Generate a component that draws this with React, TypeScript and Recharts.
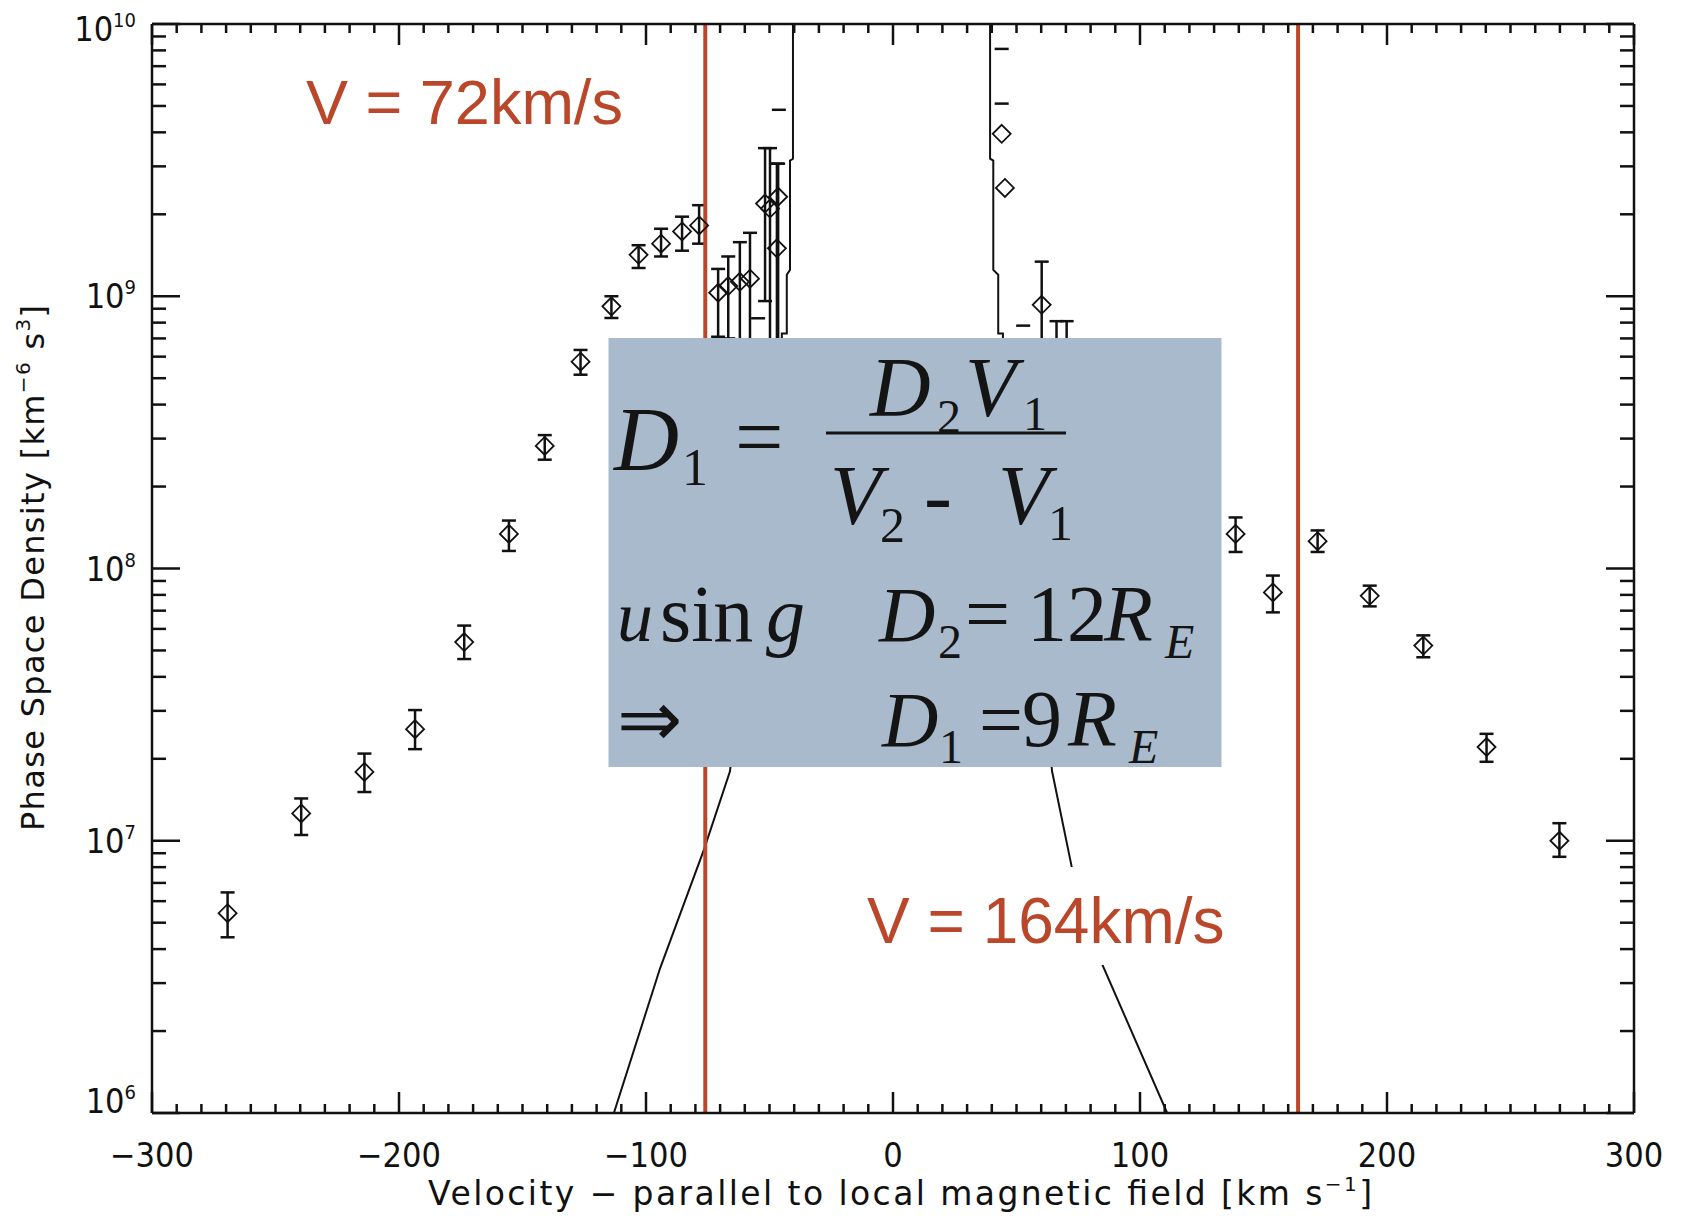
import React from 'react';
import { ComposedChart, XAxis, YAxis, Scatter, Line, ErrorBar, ReferenceLine } from 'recharts';

const W = 1667;
const H = 1209;

// measured phase space density with error bar ends (low / high)
const pointV = [
  -269.4, -239.6, -214, -193.5, -173.6, -155.5, -141, -126.5, -114, -103, -93.9, -85.4, -78.5,
  -70.8, -66.7, -62, -57.9, -51.8, -49.8, -46.5, -47,
  60.2, 66.2, 70.3,
  138.7, 153.8, 171.9, 193, 214.7, 240.3, 269.8,
];
const pointPsd = [
  5.42e6, 1.26e7, 1.79e7, 2.57e7, 5.37e7, 1.34e8, 2.82e8, 5.75e8, 9.18e8, 1.42e9, 1.56e9, 1.73e9, 1.82e9,
  1.03e9, 1.09e9, 1.13e9, 1.16e9, 2.19e9, 2.1e9, 2.32e9, 1.5e9,
  9.3e8, 5e8, 5e8,
  1.34e8, 8.17e7, 1.26e8, 7.94e7, 5.21e7, 2.21e7, 1.0e7,
];
const pointLow = [
  4.42e6, 1.05e7, 1.51e7, 2.17e7, 4.65e7, 1.16e8, 2.51e8, 5.15e8, 8.32e8, 1.27e9, 1.4e9, 1.47e9, 1.56e9,
  7.1e8, 7.0e8, 5.0e8, 5.0e8, 9.6e8, 5.0e8, 5.0e8, 5.0e8,
  6.0e8, 3.0e8, 3.0e8,
  1.15e8, 6.9e7, 1.15e8, 7.26e7, 4.72e7, 1.95e7, 8.73e6,
];
const pointHigh = [
  6.46e6, 1.43e7, 2.09e7, 3.02e7, 6.17e7, 1.5e8, 3.09e8, 6.35e8, 1.0e9, 1.54e9, 1.77e9, 1.96e9, 2.16e9,
  1.26e9, 1.4e9, 1.58e9, 1.71e9, 3.5e9, 3.5e9, 3.07e9, 3.07e9,
  1.34e9, 8.1e8, 8.1e8,
  1.54e8, 9.42e7, 1.38e8, 8.65e7, 5.68e7, 2.47e7, 1.16e7,
];

// diamonds drawn without error bars
const bareV = [44, 45.3];
const bareF = [3.95e9, 2.5e9];

// lone error bar caps
const capV = [-46.2, -54.6, 44, 44, 52.7];
const capF = [4.84e9, 8.3e8, 8.1e9, 5.1e9, 7.8e8];

// model curve, both branches
const leftCurveV = [-113, -94.3, -76.5, -66, -56, -45, -45, -43, -43, -41.7, -41.7, -40.5, -40.5];
const leftCurveF = [1e6, 3.4e6, 9.3e6, 1.8e7, 1.2e8, 6.5e8, 7.3e8, 7.3e8, 1.2e9, 1.25e9, 3.15e9, 3.2e9, 1e10];
const rightCurveV = [39.3, 39.3, 40.6, 40.6, 42.6, 42.6, 44.5, 44.5, 55, 64.4, 72.5, 84.8, 111];
const rightCurveF = [1e10, 3.2e9, 3.15e9, 1.25e9, 1.2e9, 7.3e8, 7.3e8, 6.5e8, 1.2e8, 1.8e7, 7.9e6, 3.5e6, 1e6];

const redLines = [-76, 164];

const xMajor = [-300, -200, -100, 0, 100, 200, 300];
const yMajor = [1e6, 1e7, 1e8, 1e9, 1e10];

const xTicks: number[] = [];
for (let v = -300; v <= 300; v += 10) xTicks.push(v);
const yTicks: number[] = [];
for (let d = 6; d < 10; d++) for (let k = 1; k < 10; k++) yTicks.push(k * Math.pow(10, d));
yTicks.push(1e10);

const points = pointV.map((v, i) => ({
  v,
  f: pointPsd[i],
  err: [pointPsd[i] - pointLow[i], pointHigh[i] - pointPsd[i]],
}));
const bare = bareV.map((v, i) => ({ v, f: bareF[i] }));
const caps = capV.map((v, i) => ({ v, f: capF[i] }));
const leftCurve = leftCurveV.map((v, i) => ({ v, f: leftCurveF[i] }));
const rightCurve = rightCurveV.map((v, i) => ({ v, f: rightCurveF[i] }));

const AXIS_FONT = "'DejaVu Sans', sans-serif";
const TICK_FONT = "'DejaVu Sans Condensed', 'DejaVu Sans', sans-serif";
const RED = '#bb472b';
const INK = '#111';

const Diamond = (props: any) => {
  const { cx, cy } = props;
  if (cx == null || cy == null) return null;
  const r = 9;
  return (
    <path
      d={`M${cx},${cy - r}L${cx + r},${cy}L${cx},${cy + r}L${cx - r},${cy}Z`}
      fill="none"
      stroke={INK}
      strokeWidth={1.8}
    />
  );
};

const Dash = (props: any) => {
  const { cx, cy } = props;
  if (cx == null || cy == null) return null;
  return <line x1={cx - 7} x2={cx + 7} y1={cy} y2={cy} stroke={INK} strokeWidth={2.5} />;
};

const fmtX = (v: number) => (v < 0 ? `\u2212${-v}` : `${v}`);

const BottomTick = (props: any) => {
  const { x, y, payload } = props;
  const major = xMajor.includes(payload.value);
  return (
    <g>
      <line x1={x} x2={x} y1={y} y2={y - (major ? 21 : 9)} stroke={INK} strokeWidth={2.5} />
      {major && (
        <text x={x} y={y + 54} textAnchor="middle" fontFamily={TICK_FONT} fontSize={34} fill={INK}>
          {fmtX(payload.value)}
        </text>
      )}
    </g>
  );
};

const TopTick = (props: any) => {
  const { x, y, payload } = props;
  const major = xMajor.includes(payload.value);
  return <line x1={x} x2={x} y1={y} y2={y + (major ? 21 : 9)} stroke={INK} strokeWidth={2.5} />;
};

const LeftTick = (props: any) => {
  const { x, y, payload } = props;
  const exp = Math.round(Math.log10(payload.value));
  const major = yMajor.includes(payload.value);
  let base = y + 12;
  if (exp === 10) base = y + 17;
  if (exp === 6) base = y;
  return (
    <g>
      <line x1={x} x2={x + (major ? 28 : 14)} y1={y} y2={y} stroke={INK} strokeWidth={2.5} />
      {major && (
        <text x={x - 16} y={base} textAnchor="end" fontFamily={TICK_FONT} fontSize={34} fill={INK}>
          10
          <tspan fontSize={20} dy={-14}>
            {exp}
          </tspan>
        </text>
      )}
    </g>
  );
};

const RightTick = (props: any) => {
  const { x, y, payload } = props;
  const major = yMajor.includes(payload.value);
  return <line x1={x} x2={x - (major ? 28 : 14)} y1={y} y2={y} stroke={INK} strokeWidth={2.5} />;
};

const axisLine = { stroke: INK, strokeWidth: 2.5 };

const serif = "'Liberation Serif', 'Times New Roman', serif";

const Annotations = () => (
  <svg
    width={W}
    height={H}
    style={{ position: 'absolute', left: 0, top: 0, pointerEvents: 'none' }}
  >
    {/* axis titles */}
    <text
      x={892}
      y={1197}
      textAnchor="middle"
      fontFamily={AXIS_FONT}
      fontSize={33}
      fill={INK}
      textLength={944}
      lengthAdjust="spacing"
    >
      Velocity {'\u2212'} parallel to local magnetic field [km s
      <tspan fontSize={20} dy={-14}>{'\u22121'}</tspan>
      <tspan dy={14}>]</tspan>
    </text>
    <text
      x={0}
      y={0}
      transform="translate(36,560) rotate(-90)"
      textAnchor="middle"
      fontFamily={AXIS_FONT}
      fontSize={32}
      fill={INK}
      textLength={526}
      lengthAdjust="spacing"
    >
      Phase Space Density [km
      <tspan fontSize={20} dy={-14}>{'\u22126'}</tspan>
      <tspan dy={14}> s</tspan>
      <tspan fontSize={20} dy={-14}>3</tspan>
      <tspan dy={14}>]</tspan>
    </text>

    {/* velocity labels */}
    <text x={298} y={116} fontFamily="'Liberation Sans', Arial, sans-serif" fontSize={63} fill={RED}>
      V = 72km/s
    </text>
    <rect x={852} y={859} width={392} height={98} fill="#fff" />
    <text x={859} y={935} fontFamily="'Liberation Sans', Arial, sans-serif" fontSize={64} fill={RED}>
      V = 164km/s
    </text>

    {/* formula box */}
    <rect x={600.5} y={330} width={613} height={429} fill="#a9bacd" />
    <g fontFamily={serif} fill="#141414">
      <text x={606} y={462} fontSize={90} fontStyle="italic">D</text>
      <text x={674} y={477} fontSize={52}>1</text>
      <text x={727} y={458} fontSize={86}>=</text>
      <line x1={818} x2={1058} y1={425} y2={425} stroke="#141414" strokeWidth={3} />
      <text x={862} y={408} fontSize={84} fontStyle="italic">D</text>
      <text x={929} y={425} fontSize={48}>2</text>
      <text x={957} y={408} fontSize={84} fontStyle="italic">V</text>
      <text x={1015} y={422} fontSize={48}>1</text>
      <text x={822} y={516} fontSize={84} fontStyle="italic">V</text>
      <text x={872} y={534} fontSize={50}>2</text>
      <text x={916} y={516} fontSize={84}>-</text>
      <text x={990} y={516} fontSize={84} fontStyle="italic">V</text>
      <text x={1040} y={532} fontSize={50}>1</text>

      <text x={609} y={633} fontSize={72} fontStyle="italic">u</text>
      <text x={652} y={633} fontSize={80}>sin</text>
      <text x={758} y={633} fontSize={78} fontStyle="italic">g</text>
      <text x={871} y={633} fontSize={78} fontStyle="italic">D</text>
      <text x={930} y={650} fontSize={48}>2</text>
      <text x={957} y={633} fontSize={80}>=</text>
      <text x={1019} y={633} fontSize={80}>12</text>
      <text x={1096} y={633} fontSize={80} fontStyle="italic">R</text>
      <text x={1157} y={650} fontSize={48} fontStyle="italic">E</text>

      <text x={609} y={738} fontSize={78}>{'\u21D2'}</text>
      <text x={874} y={738} fontSize={78} fontStyle="italic">D</text>
      <text x={931} y={755} fontSize={48}>1</text>
      <text x={971} y={738} fontSize={78}>=</text>
      <text x={1014} y={738} fontSize={80}>9</text>
      <text x={1060} y={738} fontSize={80} fontStyle="italic">R</text>
      <text x={1121} y={755} fontSize={48} fontStyle="italic">E</text>
    </g>
  </svg>
);

export default function App() {
  return (
    <div style={{ position: 'relative', width: W, height: H, background: '#fff' }}>
      <ComposedChart width={W} height={H} margin={{ top: 15, right: 0, bottom: 0, left: 0 }}>
        <XAxis
          xAxisId="b"
          dataKey="v"
          type="number"
          domain={[-300, 300]}
          ticks={xTicks}
          interval={0}
          height={104}
          tickSize={0}
          tickMargin={0}
          tickLine={false}
          tick={BottomTick}
          axisLine={axisLine}
          allowDataOverflow
        />
        <XAxis
          xAxisId="t"
          dataKey="v"
          type="number"
          orientation="top"
          domain={[-300, 300]}
          ticks={xTicks}
          interval={0}
          height={1}
          tickSize={0}
          tickMargin={0}
          tickLine={false}
          tick={TopTick}
          axisLine={axisLine}
          allowDataOverflow
        />
        <YAxis
          yAxisId="l"
          dataKey="f"
          type="number"
          scale="log"
          domain={[1e6, 1e10]}
          ticks={yTicks}
          interval={0}
          width={144}
          tickSize={0}
          tickMargin={0}
          tickLine={false}
          tick={LeftTick}
          axisLine={axisLine}
          allowDataOverflow
        />
        <YAxis
          yAxisId="r"
          dataKey="f"
          type="number"
          orientation="right"
          scale="log"
          domain={[1e6, 1e10]}
          ticks={yTicks}
          interval={0}
          width={41}
          tickSize={0}
          tickMargin={0}
          tickLine={false}
          tick={RightTick}
          axisLine={axisLine}
          allowDataOverflow
        />

        <Line
          xAxisId="b"
          yAxisId="l"
          data={leftCurve}
          dataKey="f"
          type="linear"
          stroke={INK}
          strokeWidth={2}
          dot={false}
          isAnimationActive={false}
        />
        <Line
          xAxisId="b"
          yAxisId="l"
          data={rightCurve}
          dataKey="f"
          type="linear"
          stroke={INK}
          strokeWidth={2}
          dot={false}
          isAnimationActive={false}
        />

        <Scatter
          xAxisId="b"
          yAxisId="l"
          data={points}
          dataKey="f"
          shape={Diamond}
          isAnimationActive={false}
        >
          <ErrorBar dataKey="err" direction="y" width={7} stroke={INK} strokeWidth={2.5} isAnimationActive={false} />
        </Scatter>
        <Scatter xAxisId="b" yAxisId="l" data={bare} dataKey="f" shape={Diamond} isAnimationActive={false} />
        <Scatter xAxisId="b" yAxisId="l" data={caps} dataKey="f" shape={Dash} isAnimationActive={false} />

        {redLines.map((v) => (
          <ReferenceLine key={v} xAxisId="b" yAxisId="l" x={v} stroke={RED} strokeWidth={4} />
        ))}
      </ComposedChart>
      <Annotations />
    </div>
  );
}
